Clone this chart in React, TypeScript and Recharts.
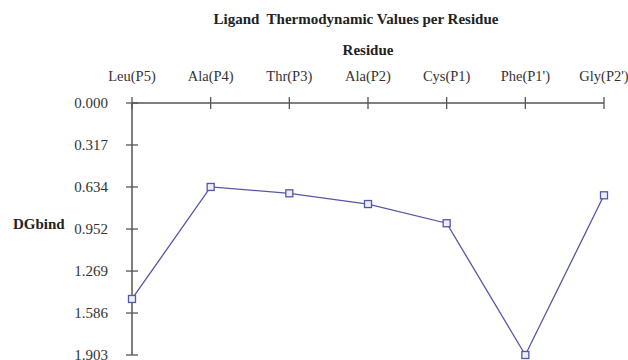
import { Line, LineChart, XAxis, YAxis } from "recharts";

const residues = [
  "Leu(P5)",
  "Ala(P4)",
  "Thr(P3)",
  "Ala(P2)",
  "Cys(P1)",
  "Phe(P1')",
  "Gly(P2')",
];
const dgBind = [1.48, 0.634, 0.682, 0.763, 0.908, 1.903, 0.697];
const yTicks = [0, 0.317, 0.634, 0.952, 1.269, 1.586, 1.903];

const data = residues.map((name, i) => ({ name, dg: dgBind[i] }));

const SERIF = "'Liberation Serif', 'Times New Roman', serif";
const AXIS = "#555";
const LINE = "#5656a6";

function XTick(props: any) {
  const { x, y, payload } = props;
  return (
    <g>
      <line x1={x} x2={x} y1={y - 6} y2={y + 6} stroke={AXIS} strokeWidth={1.3} />
      <text
        x={x}
        y={y - 22}
        textAnchor="middle"
        fontFamily={SERIF}
        fontSize={14.5}
        fill="#333"
      >
        {payload.value}
      </text>
    </g>
  );
}

function YTick(props: any) {
  const { x, y, payload } = props;
  return (
    <g>
      <line x1={x - 6} x2={x + 6} y1={y} y2={y} stroke={AXIS} strokeWidth={1.3} />
      <text
        x={x - 24}
        y={y + 5}
        textAnchor="end"
        fontFamily={SERIF}
        fontSize={15}
        fill="#333"
      >
        {Number(payload.value).toFixed(3)}
      </text>
    </g>
  );
}

function SquareDot(props: any) {
  const { cx, cy, index } = props;
  if (cx == null || cy == null) return null;
  return (
    <rect
      key={`dot-${index}`}
      x={cx - 3.5}
      y={cy - 3.5}
      width={7}
      height={7}
      fill="#eeeefa"
      stroke={LINE}
      strokeWidth={1.3}
    />
  );
}

function YLabel(props: any) {
  const { viewBox } = props;
  return (
    <text
      x={viewBox.x + 13}
      y={viewBox.y + viewBox.height / 2}
      fontFamily={SERIF}
      fontWeight="bold"
      fontSize={15}
      fill="#222"
    >
      DGbind
    </text>
  );
}

export default function App() {
  return (
    <div
      style={{
        position: "absolute",
        left: 0,
        top: 0,
        width: 628,
        height: 360,
        background: "#fff",
        overflow: "hidden",
      }}
    >
      <div
        style={{
          position: "absolute",
          left: 156,
          width: 400,
          top: 9,
          lineHeight: "20px",
          textAlign: "center",
          fontFamily: SERIF,
          fontWeight: "bold",
          fontSize: 15,
          color: "#222",
          whiteSpace: "pre",
        }}
      >
        {"Ligand  Thermodynamic Values per Residue"}
      </div>
      <LineChart
        width={628}
        height={360}
        data={data}
        margin={{ top: 30, right: 24, bottom: 5, left: 0 }}
        style={{ overflow: "visible" }}
      >
        <XAxis
          dataKey="name"
          orientation="top"
          scale="point"
          height={73}
          interval={0}
          tickSize={0}
          tickMargin={0}
          tickLine={false}
          axisLine={{ stroke: AXIS, strokeWidth: 1.5 }}
          tick={<XTick />}
          label={{
            value: "Residue",
            position: "insideTop",
            offset: 14,
            style: {
              fontFamily: SERIF,
              fontWeight: "bold",
              fontSize: 15,
              fill: "#222",
            },
          }}
        />
        <YAxis
          type="number"
          domain={[0, 1.903]}
          ticks={yTicks}
          reversed
          width={132}
          tickSize={0}
          tickMargin={0}
          tickLine={false}
          interval={0}
          axisLine={{ stroke: AXIS, strokeWidth: 1.5 }}
          tick={<YTick />}
          label={<YLabel />}
        />
        <Line
          type="linear"
          dataKey="dg"
          stroke={LINE}
          strokeWidth={1.3}
          dot={SquareDot}
          activeDot={false}
          isAnimationActive={false}
        />
      </LineChart>
    </div>
  );
}
